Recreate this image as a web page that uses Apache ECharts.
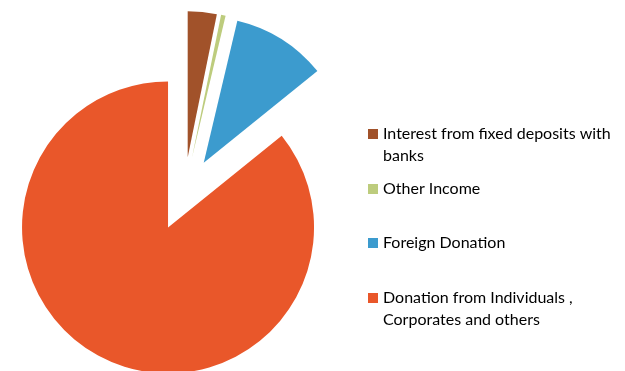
<!DOCTYPE html>
<html>
<head>
<meta charset="utf-8">
<script src="https://cdn.jsdelivr.net/npm/echarts@6/dist/echarts.min.js"></script>
<style>
  html, body { margin: 0; padding: 0; background: #fff; }
  #chart { width: 625px; height: 371px; }
</style>
</head>
<body>
<div id="chart"></div>
<script>
// Income sources (share of total, %)
const categories = [
  'Interest from fixed deposits with\nbanks',
  'Other Income',
  'Foreign Donation',
  'Donation from Individuals ,\nCorporates and others'
];
const values = [3.2, 0.5, 10.5, 85.8];
const colors = ['#A1522A', '#BDCC7D', '#3C9BCE', '#E9572A'];
// vertical centre of the first line of each legend entry
const legendRows = [134, 189, 243, 298];

const chart = echarts.init(document.getElementById('chart'), null, { renderer: 'canvas' });

const legendFont = 'Lato, "Open Sans", sans-serif';
const legendGraphics = [];
categories.forEach((name, i) => {
  legendGraphics.push({
    type: 'rect',
    left: 368,
    top: legendRows[i] - 5,
    shape: { width: 10, height: 10 },
    style: { fill: colors[i] },
    silent: true
  });
  legendGraphics.push({
    type: 'text',
    left: 383,
    top: legendRows[i] - 11,
    style: {
      text: name,
      fill: '#000',
      font: '16px ' + legendFont,
      lineHeight: 22,
      verticalAlign: 'top'
    },
    silent: true
  });
});

chart.setOption({
  animation: false,
  series: [{
    type: 'pie',
    center: [184, 194],
    radius: 146,
    startAngle: 90,
    clockwise: true,
    selectedMode: 'multiple',
    selectedOffset: 37,
    label: { show: false },
    labelLine: { show: false },
    itemStyle: { borderWidth: 0 },
    emphasis: { disabled: true },
    select: { itemStyle: { borderWidth: 0 } },
    data: categories.map((name, i) => ({
      name: name,
      value: values[i],
      selected: true,
      itemStyle: { color: colors[i] }
    }))
  }],
  graphic: legendGraphics
});
</script>
</body>
</html>
